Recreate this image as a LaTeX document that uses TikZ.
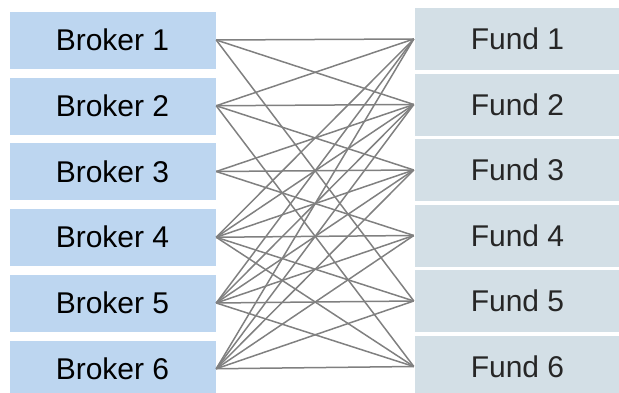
\documentclass[tikz,border=0pt]{standalone}
\usepackage{fontspec}
\setmainfont{Liberation Sans}
\usetikzlibrary{positioning}

\definecolor{brokerblue}{RGB}{189,214,240}
\definecolor{fundgray}{RGB}{211,223,230}
\definecolor{linkgray}{RGB}{128,128,128}

\tikzset{
  broker/.style={fill=brokerblue, draw=white, minimum width=207pt, minimum height=58pt,
    inner sep=0pt, font=\fontsize{30}{32}\selectfont},
  fund/.style={fill=fundgray, draw=white, minimum width=207pt, minimum height=63pt,
    inner sep=0pt, text=black!85, font=\fontsize{30}{32}\selectfont},
  link/.style={draw=linkgray, line width=1.5pt}
}

\begin{document}
\begin{tikzpicture}[x=1pt, y=-1pt]
    \useasboundingbox (0,0) rectangle (619,393);
    \begin{scope}
    \clip (0,0) rectangle (619,393);
    % brokers on the left, funds on the right
    \foreach \i in {1,...,6} {
        \node[broker] (b\i) at (112.5, {40+65.75*(\i-1)}) {Broker \i};
        \node[fund] (f\i) at (517.5, {39+65.5*(\i-1)}) {Fund \i};
    }
    \end{scope}

    % who deals with whom
    \foreach \i/\j in {1/1,1/2,1/5,
                       2/1,2/2,2/3,2/6,
                       3/2,3/3,3/4,
                       4/1,4/2,4/3,4/4,4/5,4/6,
                       5/1,5/2,5/3,5/4,5/5,5/6,
                       6/1,6/2,6/3,6/4,6/5,6/6}
        \draw[link] (b\i.east) -- (f\j.west);
\end{tikzpicture}
\end{document}
